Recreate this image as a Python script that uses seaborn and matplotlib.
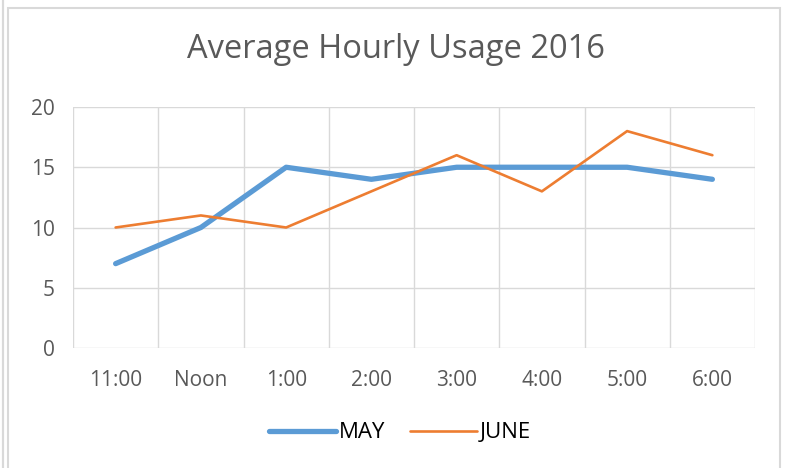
import matplotlib
matplotlib.use("Agg")
import matplotlib.pyplot as plt
import seaborn as sns
import pandas as pd
import numpy as np
from matplotlib.patches import Rectangle

hours = ["11:00", "Noon", "1:00", "2:00", "3:00", "4:00", "5:00", "6:00"]
may = [7, 10, 15, 14, 15, 15, 15, 14]
june = [10, 11, 10, 13, 16, 13, 18, 16]

df = pd.DataFrame({
    "pos": list(range(len(hours))) * 2,
    "usage": may + june,
    "month": ["MAY"] * len(hours) + ["JUNE"] * len(hours),
})

sns.set_style("white")
plt.rcParams["font.family"] = ["Open Sans", "DejaVu Sans"]
grey = "#595959"

fig = plt.figure(figsize=(7.85, 4.68), dpi=100)
ax = fig.add_axes([73 / 785, 1 - 348 / 468, 682 / 785, 241 / 468])

sns.lineplot(data=df, x="pos", y="usage", hue="month", size="month",
             palette={"MAY": "#5B9BD5", "JUNE": "#ED7D31"},
             sizes={"MAY": 3.8, "JUNE": 1.9}, ax=ax, legend=False)

ax.set_xlim(-0.5, len(hours) - 0.5)
ax.set_ylim(0, 20)
ax.set_yticks([0, 5, 10, 15, 20])
ax.set_xticks(range(len(hours)))
ax.set_xticklabels(hours)
ax.set_xticks(np.arange(-0.5, len(hours), 1), minor=True)
ax.grid(False)
ax.grid(True, which="minor", axis="x", color="#D9D9D9", lw=1)
ax.grid(True, which="major", axis="y", color="#D9D9D9", lw=1)
ax.tick_params(which="both", length=0, labelsize=15, colors=grey)
ax.tick_params(axis="x", pad=16)
ax.tick_params(axis="y", pad=13)
for s in ax.spines.values():
    s.set_visible(False)
ax.set_xlabel("")
ax.set_ylabel("")

fig.text(396 / 785, 1 - 50 / 468, "Average Hourly Usage 2016", ha="center",
         va="center", fontsize=23.5, color=grey)

handles = [plt.Line2D([], [], color="#5B9BD5", lw=3.8, solid_capstyle="round"),
           plt.Line2D([], [], color="#ED7D31", lw=1.9, solid_capstyle="round")]
fig.legend(handles, ["MAY", "JUNE"], loc="center", bbox_to_anchor=(400 / 785, 1 - 433 / 468),
           ncol=2, frameon=False, fontsize=16, handlelength=3.0, handletextpad=0.15,
           columnspacing=1.1, labelcolor="black")

fig.patches.append(Rectangle((8 / 785, -0.05), 772 / 785, 1 - 8 / 468 + 0.05,
                             transform=fig.transFigure, fill=False,
                             edgecolor="#D9D9D9", lw=1.5))
fig.patches.append(Rectangle((3 / 785, -0.05), 0.0, 1.1, transform=fig.transFigure,
                             fill=False, edgecolor="#D9D9D9", lw=1.5))

fig.savefig("out.png", dpi=100)
